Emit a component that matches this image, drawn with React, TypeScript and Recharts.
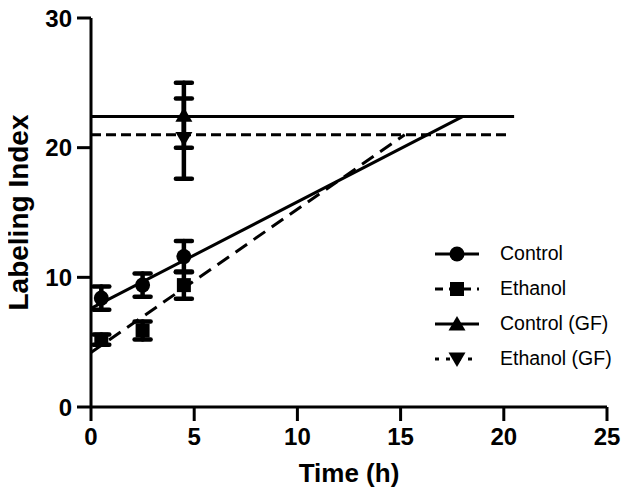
import React from 'react';
import { ComposedChart, XAxis, YAxis, Line, Scatter, ErrorBar, Legend } from 'recharts';

const FONT = '"Liberation Sans", Arial, Helvetica, sans-serif';

// Measured time points (h)
const times = [0.5, 2.5, 4.5];
const controlMean = [8.4, 9.4, 11.6];
const controlSem = [0.9, 0.9, 1.2];
const ethanolMean = [5.2, 5.9, 9.4];
const ethanolSem = [0.4, 0.7, 1.05];

// Growth fraction (GF) points
const gfTimes = [4.5];
const controlGFMean = [22.5];
const controlGFSem = [2.5];
const ethanolGFMean = [20.7];
const ethanolGFSem = [3.1];

// Fitted regression lines (endpoints)
const controlFitX = [0, 18.0];
const controlFitY = [7.6, 22.4];
const ethanolFitX = [0, 15.2];
const ethanolFitY = [4.2, 21.0];

// Plateau (GF) lines
const controlPlateauX = [0, 20.5];
const controlPlateauY = [22.4, 22.4];
const ethanolPlateauX = [0, 20.3];
const ethanolPlateauY = [21.0, 21.0];

const xTicks = [0, 5, 10, 15, 20, 25];
const yTicks = [0, 10, 20, 30];
const legendNames = ['Control', 'Ethanol', 'Control (GF)', 'Ethanol (GF)'];

const toPoints = (xs: number[], ys: number[], es?: number[]) =>
  xs.map((x, i) => ({ x, y: ys[i], err: es ? es[i] : 0 }));

const controlPts = toPoints(times, controlMean, controlSem);
const ethanolPts = toPoints(times, ethanolMean, ethanolSem);
const controlGFPts = toPoints(gfTimes, controlGFMean, controlGFSem);
const ethanolGFPts = toPoints(gfTimes, ethanolGFMean, ethanolGFSem);
const controlFit = toPoints(controlFitX, controlFitY);
const ethanolFit = toPoints(ethanolFitX, ethanolFitY);
const controlPlateau = toPoints(controlPlateauX, controlPlateauY);
const ethanolPlateau = toPoints(ethanolPlateauX, ethanolPlateauY);

const CircleShape = (p: any) => <circle cx={p.cx} cy={p.cy} r={7.5} fill="#000" />;
const SquareShape = (p: any) => (
  <rect x={p.cx - 7} y={p.cy - 7} width={14} height={14} fill="#000" />
);
const TriUpShape = (p: any) => (
  <polygon
    points={`${p.cx},${p.cy - 8} ${p.cx + 8.5},${p.cy + 6.5} ${p.cx - 8.5},${p.cy + 6.5}`}
    fill="#000"
  />
);
const TriDownShape = (p: any) => (
  <polygon
    points={`${p.cx},${p.cy + 8} ${p.cx + 8.5},${p.cy - 6.5} ${p.cx - 8.5},${p.cy - 6.5}`}
    fill="#000"
  />
);

const legendStyles = [
  { dash: undefined as string | undefined, marker: 'circle' },
  { dash: '8 6', marker: 'square' },
  { dash: undefined as string | undefined, marker: 'up' },
  { dash: '4 7', marker: 'down' },
];

const LegendMarker = ({ kind }: { kind: string }) => {
  const cx = 22;
  const cy = 10;
  if (kind === 'circle') return <CircleShape cx={cx} cy={cy} />;
  if (kind === 'square') return <SquareShape cx={cx} cy={cy} />;
  if (kind === 'up') return <TriUpShape cx={cx} cy={cy} />;
  return <TriDownShape cx={cx} cy={cy} />;
};

const LegendContent = () => (
  <div style={{ fontFamily: FONT, fontSize: 19.5, color: '#000' }}>
    {legendNames.map((name, i) => (
      <div key={name} style={{ display: 'flex', alignItems: 'center', height: 35 }}>
        <svg width={44} height={20} style={{ display: 'block' }}>
          <line
            x1={0}
            y1={10}
            x2={44}
            y2={10}
            stroke="#000"
            strokeWidth={3}
            strokeDasharray={legendStyles[i].dash}
          />
          <LegendMarker kind={legendStyles[i].marker} />
        </svg>
        <span style={{ marginLeft: 21, whiteSpace: 'nowrap' }}>{name}</span>
      </div>
    ))}
  </div>
);

const tickStyle = { fontSize: 24, fontWeight: 'bold', fill: '#000', fontFamily: FONT };
const axisLine = { stroke: '#000', strokeWidth: 3 };

export default function App() {
  return (
    <div style={{ marginLeft: -8, marginTop: -8, width: 629, height: 497 }}>
      <ComposedChart
        width={629}
        height={497}
        margin={{ top: 18, right: 22, bottom: 0, left: 0 }}
      >
        <XAxis
          type="number"
          dataKey="x"
          domain={[0, 25]}
          ticks={xTicks}
          interval={0}
          tick={tickStyle}
          tickSize={14}
          tickMargin={7}
          axisLine={axisLine}
          tickLine={axisLine}
          height={90}
          label={{
            value: 'Time (h)',
            position: 'insideBottom',
            offset: 15,
            style: { fontSize: 26, fontWeight: 'bold', fill: '#000', fontFamily: FONT },
          }}
        />
        <YAxis
          type="number"
          domain={[0, 30]}
          ticks={yTicks}
          interval={0}
          tick={tickStyle}
          tickSize={14}
          tickMargin={5}
          axisLine={axisLine}
          tickLine={axisLine}
          width={91}
          label={{
            value: 'Labeling Index',
            angle: -90,
            position: 'insideLeft',
            offset: 18,
            style: {
              fontSize: 28,
              fontWeight: 'bold',
              fill: '#000',
              fontFamily: FONT,
              textAnchor: 'middle',
            },
          }}
        />
        <Line
          data={controlPlateau}
          dataKey="y"
          stroke="#000"
          strokeWidth={3}
          dot={false}
          activeDot={false}
          isAnimationActive={false}
          legendType="none"
        />
        <Line
          data={ethanolPlateau}
          dataKey="y"
          stroke="#000"
          strokeWidth={3}
          strokeDasharray="10 5"
          dot={false}
          activeDot={false}
          isAnimationActive={false}
          legendType="none"
        />
        <Line
          data={controlFit}
          dataKey="y"
          stroke="#000"
          strokeWidth={3}
          dot={false}
          activeDot={false}
          isAnimationActive={false}
          legendType="none"
        />
        <Line
          data={ethanolFit}
          dataKey="y"
          stroke="#000"
          strokeWidth={3}
          strokeDasharray="14 8"
          dot={false}
          activeDot={false}
          isAnimationActive={false}
          legendType="none"
        />
        <Scatter data={controlPts} dataKey="y" shape={CircleShape} isAnimationActive={false} name="Control">
          <ErrorBar dataKey="err" direction="y" width={8} stroke="#000" strokeWidth={4.5} strokeLinecap="round" />
        </Scatter>
        <Scatter data={ethanolPts} dataKey="y" shape={SquareShape} isAnimationActive={false} name="Ethanol">
          <ErrorBar dataKey="err" direction="y" width={8} stroke="#000" strokeWidth={4.5} strokeLinecap="round" />
        </Scatter>
        <Scatter data={controlGFPts} dataKey="y" shape={TriUpShape} isAnimationActive={false} name="Control (GF)">
          <ErrorBar dataKey="err" direction="y" width={8} stroke="#000" strokeWidth={4.5} strokeLinecap="round" />
        </Scatter>
        <Scatter data={ethanolGFPts} dataKey="y" shape={TriDownShape} isAnimationActive={false} name="Ethanol (GF)">
          <ErrorBar dataKey="err" direction="y" width={8} stroke="#000" strokeWidth={4.5} strokeLinecap="round" />
        </Scatter>
        <Legend
          layout="vertical"
          align="center"
          verticalAlign="middle"
          content={LegendContent}
          wrapperStyle={{ position: 'absolute', left: 435, top: 236, width: 190, height: 140 }}
        />
      </ComposedChart>
    </div>
  );
}
